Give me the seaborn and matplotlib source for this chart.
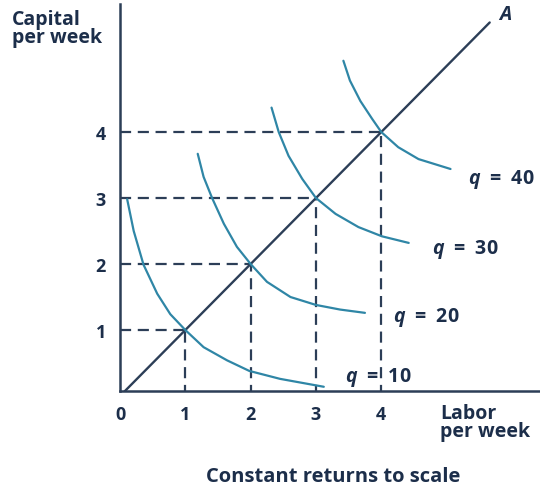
import matplotlib
matplotlib.use("Agg")
import matplotlib.pyplot as plt
import seaborn as sns
import pandas as pd

# isoquants (labor, capital)
q10_labor = [0.11, 0.21, 0.36, 0.57, 0.77, 1.0, 1.28, 1.64, 1.98, 2.45, 3.12]
q10_capital = [2.98, 2.50, 1.99, 1.55, 1.24, 1.0, 0.74, 0.54, 0.38, 0.26, 0.14]
q20_labor = [1.19, 1.28, 1.41, 1.59, 1.79, 2.0, 2.25, 2.61, 3.0, 3.37, 3.75]
q20_capital = [3.67, 3.32, 3.0, 2.61, 2.26, 2.0, 1.73, 1.50, 1.38, 1.31, 1.26]
q30_labor = [2.32, 2.43, 2.58, 2.79, 3.0, 3.30, 3.65, 4.01, 4.42]
q30_capital = [4.37, 4.0, 3.64, 3.29, 3.0, 2.76, 2.56, 2.42, 2.32]
q40_labor = [3.42, 3.52, 3.68, 3.86, 4.0, 4.26, 4.57, 5.06]
q40_capital = [5.08, 4.78, 4.47, 4.20, 4.0, 3.77, 3.59, 3.44]

ray_labor = [0, 5.66]
ray_capital = [0, 5.66]

points = [1, 2, 3, 4]
q_names = ["10", "20", "30", "40"]
label_pos = [(3.45, 0.29), (4.18, 1.20), (4.77, 2.23), (5.33, 3.30)]

navy = "#2c3e57"
teal = "#2f86a6"
text_col = "#1c2e4a"

sns.set_style("white")
plt.rcParams["font.family"] = ["Open Sans", "DejaVu Sans"]
plt.rcParams["mathtext.fontset"] = "custom"
plt.rcParams["mathtext.it"] = "Open Sans:italic:bold"
plt.rcParams["mathtext.rm"] = "Open Sans:bold"

fig = plt.figure(figsize=(5.4, 4.89), dpi=100)
ax = fig.add_axes([120 / 540, 97 / 489, 420 / 540, 387 / 489])

curves = pd.DataFrame({
    "labor": q10_labor + q20_labor + q30_labor + q40_labor,
    "capital": q10_capital + q20_capital + q30_capital + q40_capital,
    "q": (["10"] * len(q10_labor) + ["20"] * len(q20_labor)
          + ["30"] * len(q30_labor) + ["40"] * len(q40_labor)),
})

# dashed guides
for p in points:
    ax.plot([0, p], [p, p], color=navy, lw=1.6, ls=(0, (5, 3)), zorder=1)
    ax.plot([p, p], [0, p], color=navy, lw=1.6, ls=(0, (5, 3)), zorder=1)

sns.lineplot(data=curves, x="labor", y="capital", units="q", estimator=None,
             sort=False, color=teal, lw=1.6, ax=ax, zorder=3)
sns.lineplot(x=ray_labor, y=ray_capital, color=navy, lw=1.7, ax=ax, zorder=2)

for name, (lx, ly) in zip(q_names, label_pos):
    ax.text(lx, ly, "$q$  =  " + name, fontsize=14, color=text_col,
            fontweight="bold", va="center", ha="left")
ax.text(5.9, 5.79, "A", fontsize=14, color=text_col, fontweight="bold",
        style="italic", ha="center", va="center")

ax.set_xlim(0, 6.43)
ax.set_ylim(0.076, 5.94)
ax.set_xticks([0, 1, 2, 3, 4])
ax.set_yticks(points)
ax.set_xlabel("")
ax.set_ylabel("")
ax.tick_params(length=0, labelsize=13, labelcolor=text_col, pad=10)
for lab in ax.get_xticklabels() + ax.get_yticklabels():
    lab.set_fontweight("bold")

for side in ["top", "right"]:
    ax.spines[side].set_visible(False)
for side in ["left", "bottom"]:
    ax.spines[side].set_color(navy)
    ax.spines[side].set_linewidth(1.8)

fig.text(12 / 540, 1 - 10 / 489, "Capital\nper week", fontsize=14,
         color=text_col, fontweight="bold", ha="left", va="top",
         linespacing=0.88)
fig.text(440 / 540, 1 - 404 / 489, "Labor\nper week", fontsize=14,
         color=text_col, fontweight="bold", ha="left", va="top",
         linespacing=0.88)
fig.text(333 / 540, 1 - 477 / 489, "Constant returns to scale", fontsize=14.5,
         color=text_col, fontweight="bold", ha="center", va="center")

fig.savefig("out.png", dpi=100)
